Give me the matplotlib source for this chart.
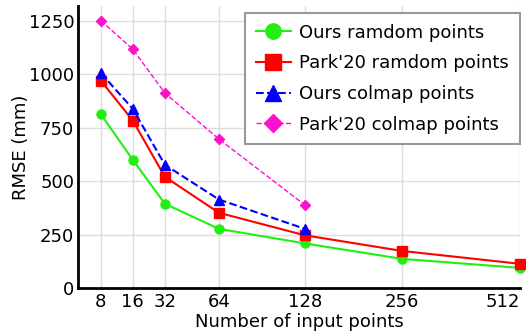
import numpy as np
import matplotlib
matplotlib.use('Agg')
import matplotlib.pyplot as plt

# number of input points
n_points = [8, 16, 32, 64, 128, 256, 512]
n_points_colmap = [8, 16, 32, 64, 128]

# RMSE (mm)
ours_random = [813, 600, 395, 278, 210, 138, 96]
park_random = [970, 783, 521, 353, 248, 175, 115]
ours_colmap = [1005, 838, 577, 415, 278]
park_colmap = [1250, 1116, 912, 697, 389]

# uneven spacing of the x ticks in the original figure
tick_log2 = [2, 3, 4, 5, 6, 7, 8, 9, 10]
tick_pos = [-32, 0, 32, 64, 118, 204, 301, 418.6, 560]


def forward(x):
    x = np.asarray(x, dtype=float)
    return np.interp(np.log2(np.clip(x, 1e-9, None)), tick_log2, tick_pos)


def inverse(u):
    return 2 ** np.interp(u, tick_pos, tick_log2)


fig = plt.figure(figsize=(5.26, 3.35), dpi=100)
ax = fig.add_axes([0.149, 0.139, 0.839, 0.843])
ax.set_xscale('function', functions=(forward, inverse))

ax.plot(n_points, ours_random, '-o', color='#22ee11', lw=1.5, ms=6.5,
        label='Ours ramdom points', clip_on=False, zorder=3)
ax.plot(n_points, park_random, '-s', color='#ff0000', lw=1.5, ms=6.5,
        label="Park'20 ramdom points", clip_on=False, zorder=3)
ax.plot(n_points_colmap, ours_colmap, '--^', color='#0000ff', lw=1.5, ms=6.5,
        label='Ours colmap points', zorder=3)
ax.plot(n_points_colmap, park_colmap, '--D', color='#ff11cc', lw=1, ms=5.5,
        label="Park'20 colmap points", zorder=3)

ax.set_xlim(4.92, 512)
ax.set_ylim(0, 1318)
ax.set_xticks(n_points)
ax.set_xticklabels([str(n) for n in n_points])
ax.get_xticklabels()[-1].set_horizontalalignment('right')
ax.minorticks_off()
ax.set_yticks([0, 250, 500, 750, 1000, 1250])

ax.grid(True, color='#dddddd', lw=1)
ax.set_axisbelow(True)
ax.tick_params(length=0, labelsize=13, pad=3)
for s in ['top', 'right']:
    ax.spines[s].set_visible(False)
for s in ['left', 'bottom']:
    ax.spines[s].set_linewidth(2)
    ax.spines[s].set_color('black')

ax.set_xlabel('Number of input points', fontsize=13, labelpad=2)
ax.set_ylabel('RMSE (mm)', fontsize=13, labelpad=-1)

leg = ax.legend(loc='upper right', bbox_to_anchor=(1.0, 0.976), fontsize=13,
                markerscale=1.7, handlelength=1.95, labelspacing=0.7,
                fancybox=False, framealpha=1, edgecolor='#999999',
                borderpad=0.6, handletextpad=0.45, borderaxespad=0)
leg.get_frame().set_linewidth(1.5)

fig.savefig('out.png', dpi=100)
